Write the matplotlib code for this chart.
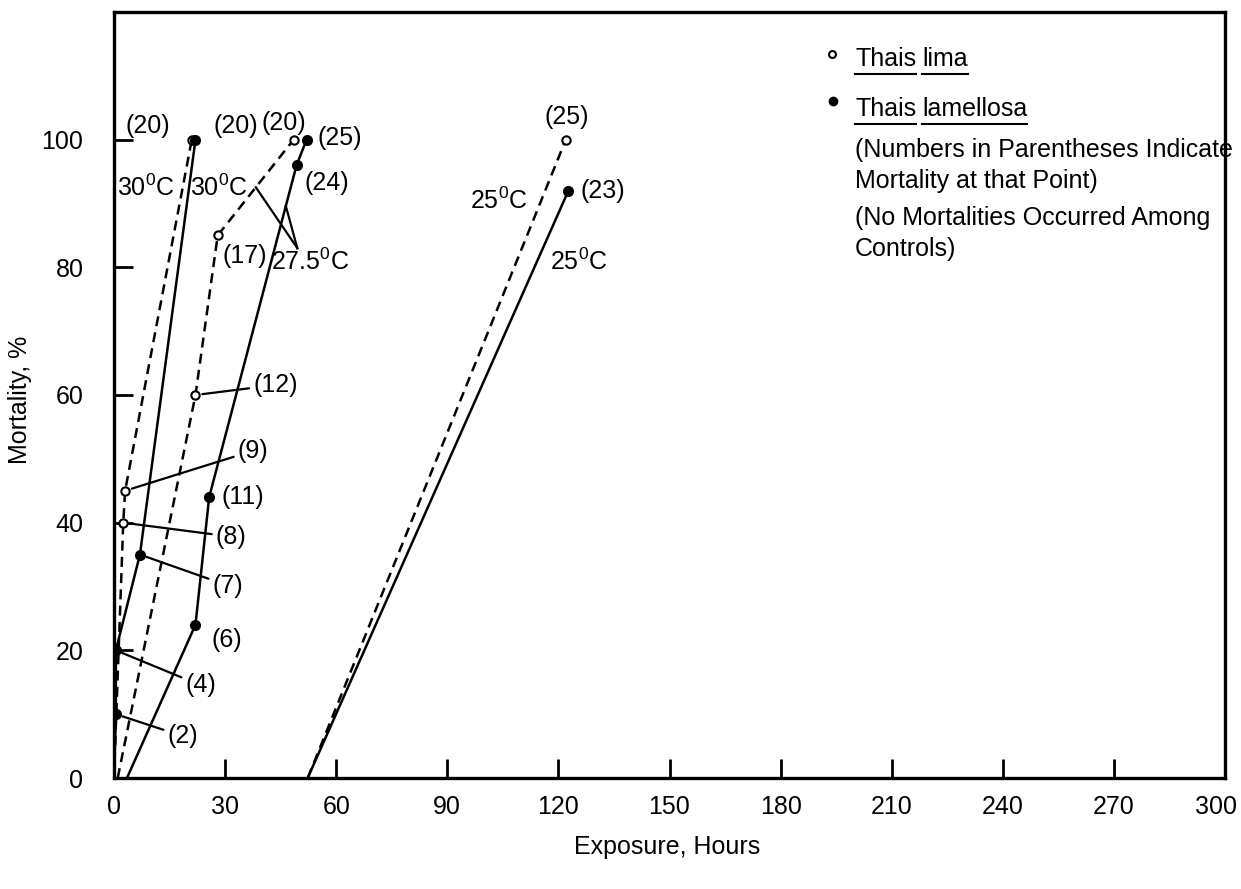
import numpy as np
import matplotlib
matplotlib.use("Agg")
import matplotlib.pyplot as plt
import matplotlib.transforms as mtransforms
from matplotlib.lines import Line2D

plt.rcParams["font.family"] = ["Liberation Sans", "DejaVu Sans"]
plt.rcParams["mathtext.default"] = "regular"

# exposure (hours), mortality (%), number dead at marked points
# Thais lima -- open circles, dashed
LIMA_30_H = [0, 2.5, 3, 21]
LIMA_30_M = [0, 40, 45, 100]
LIMA_30_N = [None, 8, 9, 20]

LIMA_275_H = [1, 22, 28, 48.5]
LIMA_275_M = [0, 60, 85, 100]
LIMA_275_N = [None, 12, 17, 20]

LIMA_25_H = [52.3, 122]
LIMA_25_M = [0, 100]
LIMA_25_N = [None, 25]

# Thais lamellosa -- filled dots, solid
LAM_30_H = [0, 0.5, 0.5, 7, 22]
LAM_30_M = [0, 10, 20, 35, 100]
LAM_30_N = [None, 2, 4, 7, 20]

LAM_275_H = [3.5, 22, 25.7, 49.3, 52]
LAM_275_M = [0, 24, 44, 96, 100]
LAM_275_N = [None, 6, 11, 24, 25]

LAM_25_H = [52.3, 122.7]
LAM_25_M = [0, 92]
LAM_25_N = [None, 23]

X_TICKS = list(range(0, 301, 30))
Y_TICKS = list(range(0, 101, 20))

W, H = 1241, 889
FS = 18

fig = plt.figure(figsize=(W / 100, H / 100), dpi=100)
ax = fig.add_axes([114 / W, 1 - 778 / H, (1225 - 114) / W, (778 - 12) / H])

dash = (0, (4, 2.5))
series = [
    (LIMA_30_H, LIMA_30_M, LIMA_30_N, "lima"),
    (LIMA_275_H, LIMA_275_M, LIMA_275_N, "lima"),
    (LIMA_25_H, LIMA_25_M, LIMA_25_N, "lima"),
    (LAM_30_H, LAM_30_M, LAM_30_N, "lam"),
    (LAM_275_H, LAM_275_M, LAM_275_N, "lam"),
    (LAM_25_H, LAM_25_M, LAM_25_N, "lam"),
]
for h, m, n, sp in series:
    if sp == "lima":
        ax.plot(h, m, color="black", lw=1.8, ls=dash)
        ax.plot(h[1:], m[1:], ls="none", marker="o", ms=6, mfc="white",
                mec="black", mew=1.5, zorder=3)
    else:
        ax.plot(h, m, color="black", lw=1.8)
        ax.plot(h[1:], m[1:], ls="none", marker="o", ms=7, color="black", zorder=4)

# count labels: offsets in pixels from the point, leader line or not
offsets = {
    ("lima30", 3): (-44, 14, False),
    ("lam30", 4): (40, 14, False),
    ("lima275", 3): (-10, 17, False),
    ("lam275", 4): (33, 2, False),
    ("lam275", 3): (30, -18, False),
    ("lima275", 2): (27, -21, False),
    ("lima275", 1): (80, 10, True),
    ("lima30", 2): (128, 40, True),
    ("lam275", 2): (34, 0, False),
    ("lima30", 1): (108, -14, True),
    ("lam30", 3): (88, -31, True),
    ("lam275", 1): (31, -15, False),
    ("lam30", 2): (85, -35, True),
    ("lam30", 1): (67, -22, True),
    ("lima25", 1): (1, 23, False),
    ("lam25", 1): (34, 0, False),
}
named = {
    "lima30": (LIMA_30_H, LIMA_30_M, LIMA_30_N),
    "lima275": (LIMA_275_H, LIMA_275_M, LIMA_275_N),
    "lima25": (LIMA_25_H, LIMA_25_M, LIMA_25_N),
    "lam30": (LAM_30_H, LAM_30_M, LAM_30_N),
    "lam275": (LAM_275_H, LAM_275_M, LAM_275_N),
    "lam25": (LAM_25_H, LAM_25_M, LAM_25_N),
}
for (key, i), (dx, dy, lead) in offsets.items():
    h, m, n = named[key]
    arrow = None
    if lead:
        arrow = dict(arrowstyle="-", color="black", lw=1.6, shrinkA=1, shrinkB=5)
    ax.annotate(f"({n[i]})", (h[i], m[i]), xytext=(dx, dy),
                textcoords="offset pixels", ha="center", va="center",
                fontsize=FS, arrowprops=arrow)

deg = "$^0$C"
ax.text(8.6, 92.5, "30" + deg, fontsize=FS, ha="center", va="center")
ax.text(28.3, 92.5, "30" + deg, fontsize=FS, ha="center", va="center")
ax.text(103.8, 90.5, "25" + deg, fontsize=FS, ha="center", va="center")
ax.text(125.5, 80.8, "25" + deg, fontsize=FS, ha="center", va="center")

# 27.5 C label with two leaders, one to each line
lx, ly = 49.5, 83.0
ax.text(lx + 3.5, ly - 2.2, "27.5" + deg, fontsize=FS, ha="center", va="center")
for hh, hs, ms in [(38.3, LIMA_275_H, LIMA_275_M), (46.4, LAM_275_H, LAM_275_M)]:
    ax.plot([lx, hh], [ly, np.interp(hh, hs, ms)], color="black", lw=1.6)

ax.set_xlim(0, 300)
ax.set_ylim(0, 120)
ax.set_xticks(X_TICKS)
ax.set_yticks(Y_TICKS)
ax.tick_params(axis="both", direction="in", length=14, width=2, labelsize=FS)
ax.tick_params(axis="x", pad=12)
ax.tick_params(axis="y", pad=22)
for s in ax.spines.values():
    s.set_linewidth(2.4)

# pull the last x label ("300") in a little so it stays inside the figure
last = ax.get_xticklabels()[-1]
last.set_transform(last.get_transform() +
                   mtransforms.ScaledTranslation(-9 / 100, 0, fig.dpi_scale_trans))

fig.text(20 / W, 1 - 400 / H, "Mortality, %", rotation=90, fontsize=FS,
         ha="center", va="center")
fig.text(667 / W, 1 - 847 / H, "Exposure, Hours", fontsize=FS,
         ha="center", va="center")

# legend block, top right
fig.canvas.draw()
rend = fig.canvas.get_renderer()


def line_of_words(x_px, base_px, words, underline):
    x = x_px
    for w in words:
        t = fig.text(x / W, 1 - base_px / H, w, fontsize=FS, ha="left",
                     va="baseline")
        bb = t.get_window_extent(renderer=rend)
        if underline:
            yy = (H - base_px - 8) / H
            fig.add_artist(Line2D([bb.x0 / W, bb.x1 / W], [yy, yy],
                                  transform=fig.transFigure, color="black",
                                  lw=1.5))
        x = bb.x1 + 6


fig.add_artist(Line2D([832 / W], [1 - 54 / H], transform=fig.transFigure,
                      marker="o", ms=5, mfc="white", mec="black", mew=1.5))
fig.add_artist(Line2D([833 / W], [1 - 101 / H], transform=fig.transFigure,
                      marker="o", ms=6, color="black"))
line_of_words(855, 66, ["Thais", "lima"], True)
line_of_words(855, 116, ["Thais", "lamellosa"], True)
line_of_words(855, 157, ["(Numbers in Parentheses Indicate"], False)
line_of_words(855, 188, ["Mortality at that Point)"], False)
line_of_words(855, 225, ["(No Mortalities Occurred Among"], False)
line_of_words(855, 256, ["Controls)"], False)

fig.savefig("out.png", dpi=100)
